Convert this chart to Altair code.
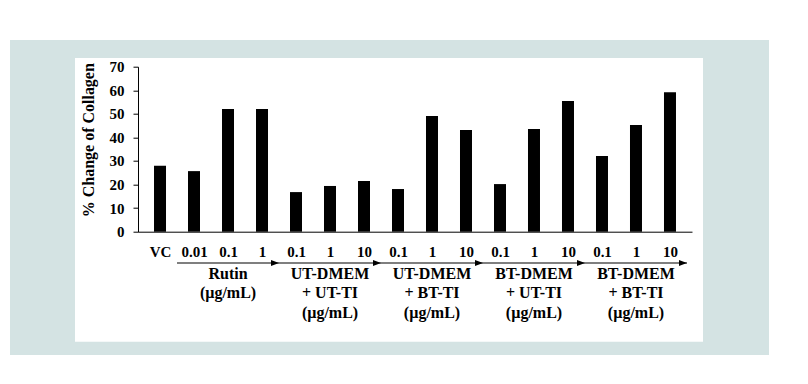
import altair as alt
import pandas as pd

# ---- data ----
tick_labels = ["VC", "0.01", "0.1", "1", "0.1", "1", "10", "0.1", "1", "10",
               "0.1", "1", "10", "0.1", "1", "10"]
collagen = [28.0, 25.7, 52.0, 52.0, 16.8, 19.4, 21.5, 18.1, 49.1, 43.1,
            20.2, 43.6, 55.4, 32.1, 45.3, 59.2]
group_names = ["Rutin\n(µg/mL)",
               "UT-DMEM\n+ UT-TI\n(µg/mL)",
               "UT-DMEM\n+ BT-TI\n(µg/mL)",
               "BT-DMEM\n+ UT-TI\n(µg/mL)",
               "BT-DMEM\n+ BT-TI\n(µg/mL)"]
group_first = [1, 4, 7, 10, 13]
group_last = [3, 6, 9, 12, 15]

BLUE = "#d4e3e3"
FONT = "Liberation Serif"

bars_df = pd.DataFrame({"idx": list(range(len(collagen))), "value": collagen})
groups_df = pd.DataFrame({
    "name": group_names,
    "start": [f - 0.5 for f in group_first],
    "end": [l + 0.5 for l in group_last],
    "mid": [(f + l) / 2 for f, l in zip(group_first, group_last)],
})

label_expr = "[" + ",".join('"%s"' % t for t in tick_labels) + "][datum.value]"

xscale = alt.Scale(domain=[-0.5, len(collagen) - 0.5], nice=False, zero=False)

one = pd.DataFrame({"a": [0]})
bg_blue = alt.Chart(one).mark_rect(color=BLUE).encode(
    x=alt.value(-128), x2=alt.value(631), y=alt.value(-26.7), y2=alt.value(288.3))
bg_white = alt.Chart(one).mark_rect(color="white").encode(
    x=alt.value(-63), x2=alt.value(565), y=alt.value(-8.7), y2=alt.value(275))

xaxis = alt.Axis(values=list(range(len(collagen))), labelExpr=label_expr,
                 title=None, ticks=False, grid=False, domainColor="black",
                 labelFont=FONT, labelFontWeight="bold", labelFontSize=15,
                 labelColor="black", labelPadding=13, labelFlush=False,
                 labelOverlap=False, labelSeparation=0, zindex=2)

bars = alt.Chart(bars_df).mark_bar(width=12, color="black").encode(
    x=alt.X("idx:Q", scale=xscale, axis=xaxis),
    y=alt.Y("value:Q", scale=alt.Scale(domain=[0, 70], nice=False),
            axis=alt.Axis(values=list(range(0, 71, 10)), title="% Change of Collagen",
                          grid=False, domainColor="black", tickColor="black", tickSize=5,
                          labelFont=FONT, labelFontWeight="bold", labelFontSize=15,
                          labelColor="black", labelPadding=9, zindex=2,
                          titleFont=FONT, titleFontWeight="bold", titleFontSize=16,
                          titleColor="black", titleX=-50, titleY=73, titleAngle=270,
                          titleAlign="center", titleBaseline="middle")),
)

arrows = alt.Chart(groups_df).mark_rule(color="black", strokeWidth=1.2).encode(
    x=alt.X("start:Q", scale=xscale, axis=xaxis), x2="end:Q", y=alt.value(196.3))

heads = alt.Chart(groups_df).mark_point(
    shape="M-2,-0.75L0,0L-2,0.75Z", size=64, filled=True, color="black",
    opacity=1, strokeWidth=0).encode(
    x=alt.X("end:Q", scale=xscale, axis=xaxis), y=alt.value(196.3))

glabels = alt.Chart(groups_df).mark_text(
    font=FONT, fontWeight="bold", fontSize=16, color="black", lineBreak="\n",
    lineHeight=19.5, align="center", baseline="top").encode(
    x=alt.X("mid:Q", scale=xscale, axis=xaxis), y=alt.value(199.3), text="name:N")

chart = alt.layer(bg_blue, bg_white, bars, arrows, heads, glabels).properties(
    width=554, height=165,
    autosize=alt.AutoSizeParams(type="none"),
    padding={"left": 130, "top": 58.7, "right": 100, "bottom": 130},
    background="white",
).configure_view(strokeWidth=0).configure_axisX(labelOverlap=False)

chart.save("out.html", embed_options={"renderer": "svg", "actions": False})
